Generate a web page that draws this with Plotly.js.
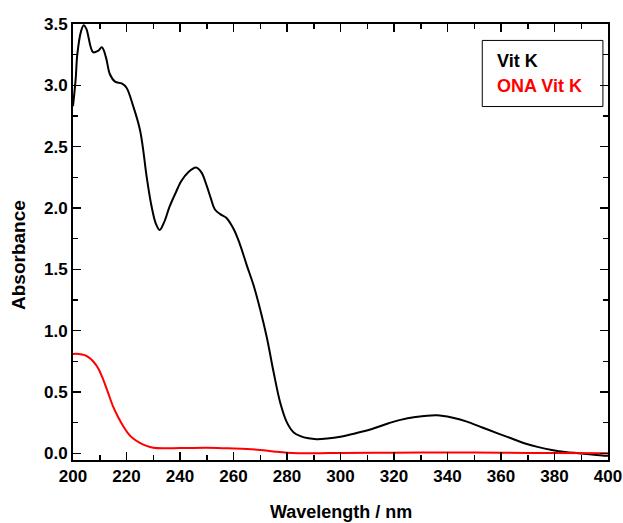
<!DOCTYPE html>
<html>
<head>
<meta charset="utf-8">
<script src="https://cdn.plot.ly/plotly-3.0.1.min.js"></script>
<style>html,body{margin:0;padding:0;background:#fff;}#chart{width:623px;height:523px;}</style>
</head>
<body>
<div id="chart"></div>
<script>
const vitK_x = [200,201,201.6,203,204,205,207.5,209.3,210.8,212.3,213.8,215.7,218.2,220,222.5,225,226.2,227.5,229.4,231,232.4,234,236.1,238.3,240.5,243,246,248,250,251.5,253,255,257.3,260,262.3,265,267.5,270,272.5,275,277.5,280,282.5,285,288,291,295,300,306,312,318,322,328,336,342,347,353,359,364,369,374,379,384,389,394,399,400];
const vitK_y = [2.83,3.05,3.25,3.44,3.49,3.46,3.27,3.28,3.31,3.23,3.09,3.03,3.015,2.98,2.83,2.64,2.48,2.26,2.01,1.87,1.82,1.88,2.01,2.12,2.22,2.29,2.33,2.29,2.18,2.08,1.99,1.95,1.92,1.83,1.71,1.53,1.37,1.17,0.94,0.66,0.41,0.25,0.17,0.14,0.122,0.115,0.12,0.135,0.165,0.20,0.245,0.27,0.295,0.31,0.29,0.26,0.21,0.16,0.12,0.08,0.05,0.027,0.01,0.0,-0.01,-0.02,-0.02];
const ona_x = [200,202,204.4,206,207.5,209.5,211.3,213,215,217,218.8,220.5,222.5,225,227.5,230,233.6,240,250,258,265,270,275,280,290,300,320,340,360,380,400];
const ona_y = [0.81,0.81,0.80,0.78,0.75,0.69,0.60,0.50,0.38,0.29,0.22,0.165,0.12,0.085,0.06,0.045,0.04,0.042,0.045,0.04,0.035,0.027,0.015,0.005,0.0,0.003,0.005,0.006,0.004,0.002,0.0];
const xTicks = [200,220,240,260,280,300,320,340,360,380,400];
const yTicks = [0,0.5,1.0,1.5,2.0,2.5,3.0,3.5];
const seriesNames = ['Vit K','ONA Vit K'];

const F = 'Liberation Sans, Arial, sans-serif';
const traces = [
  {x: vitK_x, y: vitK_y, mode:'lines', name: seriesNames[0], line:{color:'#000', width:2, shape:'spline', smoothing:1}},
  {x: ona_x, y: ona_y, mode:'lines', name: seriesNames[1], line:{color:'#ff0000', width:2, shape:'spline', smoothing:1}}
];
const axisCommon = {
  showgrid:false, zeroline:false, showline:true, linecolor:'#000', linewidth:2, mirror:'ticks',
  ticks:'inside', ticklen:8, tickwidth:1.5, tickcolor:'#000',
  tickfont:{family:F, size:17, color:'#000', weight:'bold'}
};
const layout = {
  width:623, height:523,
  margin:{l:73, r:15, t:24, b:63},
  paper_bgcolor:'#fff', plot_bgcolor:'#fff',
  showlegend:false,
  xaxis: Object.assign({}, axisCommon, {range:[200,400], tickvals:xTicks, ticktext:xTicks.map(String),
    minor:{dtick:10, ticks:'inside', ticklen:5, tickwidth:1.5, tickcolor:'#000'}}),
  yaxis: Object.assign({}, axisCommon, {range:[-0.055,3.5], tickvals:yTicks, ticktext:yTicks.map(v=>v.toFixed(1)),
    minor:{dtick:0.25, tick0:0, ticks:'inside', ticklen:5, tickwidth:1.5, tickcolor:'#000'}}),
  shapes:[{type:'rect', xref:'x', yref:'y', x0:353, x1:398.1, y0:2.827, y1:3.366, line:{color:'#000', width:1}, fillcolor:'rgba(0,0,0,0)'}],
  annotations:[
    {xref:'x', yref:'y', x:357.8, y:3.197, xanchor:'left', yanchor:'middle', text:seriesNames[0], showarrow:false, font:{family:F, size:18, color:'#000', weight:'bold'}},
    {xref:'x', yref:'y', x:357.8, y:2.993, xanchor:'left', yanchor:'middle', text:seriesNames[1], showarrow:false, font:{family:F, size:18, color:'#ff0000', weight:'bold'}},
    {xref:'paper', yref:'paper', x:0.5, y:0, yshift:-52, xanchor:'center', yanchor:'middle', text:'Wavelength / nm', showarrow:false, font:{family:F, size:18, color:'#000', weight:'bold'}},
    {xref:'paper', yref:'paper', x:0, xshift:-55, y:0.5, yshift:-13, xanchor:'center', yanchor:'middle', textangle:-90, text:'Absorbance', showarrow:false, font:{family:F, size:19, color:'#000', weight:'bold'}}
  ]
};
Plotly.newPlot('chart', traces, layout, {displayModeBar:false, staticPlot:true});
</script>
</body>
</html>
